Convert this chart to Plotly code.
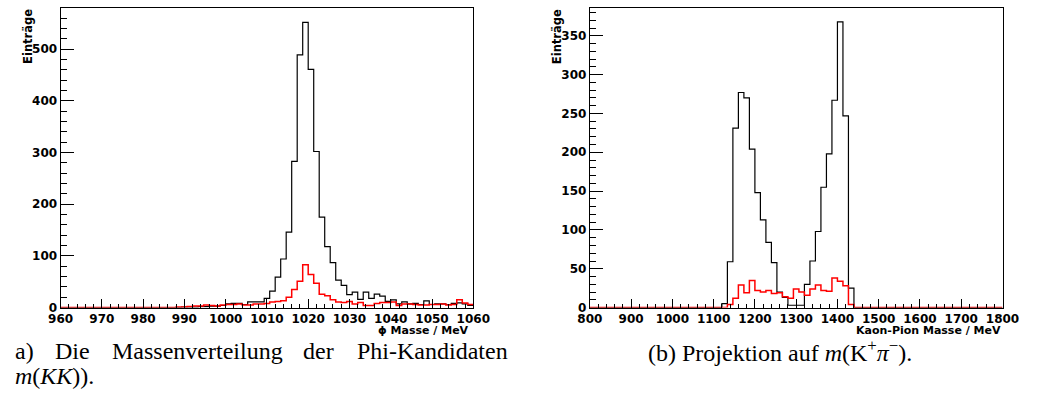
import numpy as np
import plotly.graph_objects as go

W, H = 1037, 405

# ---------------- data ----------------
# left: phi mass, 75 bins from 960 to 1060 MeV
phi_range = [960, 1060]
phi_all = [0, 0, 0, 0, 0, 0, 0, 0, 0, 0,
           0, 0, 0, 0, 0, 0, 0, 0, 0, 0,
           0, 0, 1, 1, 1, 2, 2, 3, 3, 4,
           7, 8, 8, 6, 11, 11, 11, 18, 32, 59,
           94, 146, 283, 489, 552, 461, 302, 175, 118, 87,
           53, 43, 25, 30, 16, 30, 18, 26, 22, 12,
           15, 7, 11, 7, 8, 6, 13, 6, 7, 7,
           6, 8, 9, 7, 4]
phi_sel = [0, 0, 0, 0, 0, 0, 0, 0, 0, 0,
           0, 0, 0, 0, 0, 0, 0, 0, 0, 0,
           0, 1, 1, 2, 3, 3, 5, 4, 3, 5,
           6, 6, 7, 5, 5, 7, 7, 8, 11, 12,
           13, 20, 35, 51, 83, 64, 47, 26, 23, 15,
           11, 10, 12, 7, 10, 4, 4, 8, 10, 10,
           11, 4, 7, 7, 6, 5, 5, 6, 6, 7,
           5, 6, 15, 9, 6]

# right: K pi mass, 75 bins from 800 to 1800 MeV
kpi_range = [800, 1800]
kpi_all = [0] * 24 + [5, 59, 231, 277, 270, 204, 148, 113, 84, 58,
                      20, 13, 3, 3, 3, 30, 60, 98, 155, 198,
                      267, 368, 247, 25] + [0] * 27
kpi_sel = [0] * 25 + [4, 12, 29, 19, 35, 22, 20, 22, 18,
                      19, 14, 12, 24, 20, 16, 24, 29, 22, 21,
                      38, 34, 28, 4] + [0] * 27

phi_xticks = [960, 970, 980, 990, 1000, 1010, 1020, 1030, 1040, 1050, 1060]
kpi_xticks = [800, 900, 1000, 1100, 1200, 1300, 1400, 1500, 1600, 1700, 1800]
phi_yticks = [0, 100, 200, 300, 400, 500]
kpi_yticks = [0, 50, 100, 150, 200, 250, 300, 350]


def step(rng, vals):
    edges = np.linspace(rng[0], rng[1], len(vals) + 1)
    x = list(edges)
    y = list(vals) + [vals[-1]]
    return x, y


fig = go.Figure()

xa1 = [49 / W, 474 / W]
xa2 = [594 / W, 1019 / W]
ydom = [1 - 313 / H, 1 - 8 / H]

for rng, a, s, xr, yr in [(phi_range, phi_all, phi_sel, "x", "y"),
                          (kpi_range, kpi_all, kpi_sel, "x2", "y2")]:
    x, y = step(rng, a)
    fig.add_trace(go.Scatter(x=x, y=y, mode="lines", line=dict(color="black", width=1.2, shape="hv"),
                             xaxis=xr, yaxis=yr, showlegend=False, hoverinfo="skip"))
    x, y = step(rng, s)
    fig.add_trace(go.Scatter(x=x, y=y, mode="lines", line=dict(color="#ff0000", width=1.5, shape="hv"),
                             xaxis=xr, yaxis=yr, showlegend=False, hoverinfo="skip"))

tickfont = dict(family="DejaVu Sans", size=12, color="black", weight=700)
common_x = dict(showline=True, linecolor="black", linewidth=1, mirror=True, ticks="inside",
                showgrid=False, zeroline=False, tickfont=tickfont, ticklen=9, tickcolor="black",
                tickwidth=1)
common_y = dict(showline=True, linecolor="black", linewidth=1, mirror=True, ticks="inside",
                showgrid=False, zeroline=False, tickfont=tickfont, ticklen=13, tickcolor="black",
                tickwidth=1)

fig.update_layout(
    width=W, height=H, margin=dict(l=0, r=0, t=0, b=0),
    paper_bgcolor="white", plot_bgcolor="white",
    xaxis=dict(domain=xa1, range=phi_range, anchor="y", tickvals=phi_xticks,
               minor=dict(dtick=2, ticks="inside", ticklen=4, tickcolor="black"), **common_x),
    yaxis=dict(domain=ydom, range=[0, 580], anchor="x", tickvals=phi_yticks,
               minor=dict(dtick=20, ticks="inside", ticklen=6, tickcolor="black"), **common_y),
    xaxis2=dict(domain=xa2, range=kpi_range, anchor="y2", tickvals=kpi_xticks,
                minor=dict(dtick=20, ticks="inside", ticklen=4, tickcolor="black"), **common_x),
    yaxis2=dict(domain=ydom, range=[0, 386], anchor="x2", tickvals=kpi_yticks,
                minor=dict(dtick=10, ticks="inside", ticklen=6, tickcolor="black"), **common_y),
)

lab = dict(family="DejaVu Sans", size=11.5, color="black", weight=700)
ann = [
    dict(text="Einträge", x=16 / W, y=1 - 7 / H, textangle=-90, xanchor="center", yanchor="top"),
    dict(text="Einträge", x=561 / W, y=1 - 7 / H, textangle=-90, xanchor="center", yanchor="top"),
]
for a in ann:
    fig.add_annotation(xref="paper", yref="paper", showarrow=False, font=lab, **a)

xlab = dict(family="DejaVu Sans", size=11, color="black", weight=700)
for txt, xp in [("ϕ Masse / MeV", 472), ("Kaon-Pion Masse / MeV", 1019)]:
    fig.add_annotation(xref="paper", yref="paper", showarrow=False, font=xlab, text=txt,
                       x=xp / W, y=1 - 336 / H, xanchor="right", yanchor="middle")

cap = dict(family="Liberation Serif", size=24, color="black")
words = [("a)", 0), ("Die", 41), ("Massenverteilung", 100), ("der", 297), ("Phi-Kandidaten", 352)]
for wtxt, xp in words:
    fig.add_annotation(xref="paper", yref="paper", showarrow=False, font=cap, text=wtxt,
                       x=xp / W, y=1 - 357 / H, xanchor="left", yanchor="middle")
fig.add_annotation(xref="paper", yref="paper", showarrow=False, font=cap,
                   text="<i>m</i>(<i>KK</i>)).", x=0, y=1 - 383 / H, xanchor="left", yanchor="middle")
fig.add_annotation(xref="paper", yref="paper", showarrow=False, font=cap,
                   text="(b) Projektion auf <i>m</i>(K<sup>+</sup><i>π</i><sup>−</sup>).",
                   x=652 / W, y=1 - 357 / H, xanchor="left", yanchor="middle")

fig.write_html("out.html")
